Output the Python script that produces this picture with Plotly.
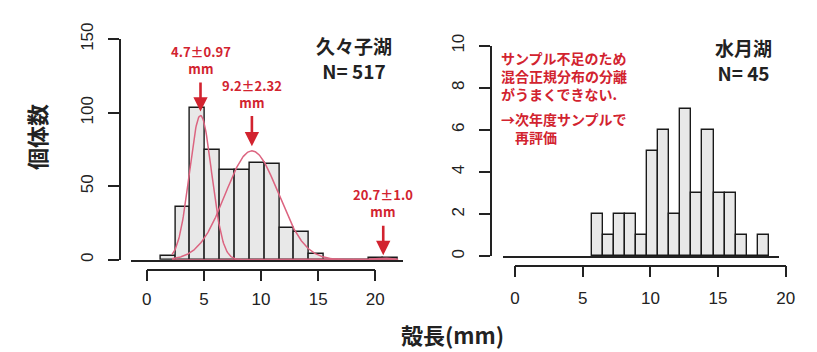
import numpy as np
import plotly.graph_objects as go

# ---------------- data ----------------
# Left panel: 久々子湖 (N=517)
left_bin_start = 1.2
left_bin_width = 1.3
left_counts = [3, 36, 103, 75, 61, 61, 66, 65, 22, 19, 4, 0, 0, 0, 1, 1]
left_total = 517
mix_means = [4.7, 9.2, 20.7]
mix_sds = [0.97, 2.32, 1.0]
mix_weights = [0.355, 0.641, 0.004]
mix_labels = ["4.7±0.97", "9.2±2.32", "20.7±1.0"]
curve_x_range = [2.2, 22.0]

# Right panel: 水月湖 (N=45)
right_bin_start = 5.65
right_bin_width = 0.82
right_counts = [2, 1, 2, 2, 1, 5, 6, 2, 7, 3, 6, 3, 3, 1, 0, 1]
right_total = 45

x_ticks = [0, 5, 10, 15, 20]
left_y_ticks = [0, 50, 100, 150]
right_y_ticks = [0, 2, 4, 6, 8, 10]

# ---------------- layout helpers (pixel geometry) ----------------
W, H = 817, 352
def X(px):
    return px / W
def Y(py):
    return 1 - py / H

RED = "#d2232f"
PINK = "#dc6480"
DARK = "#222222"
JP = "Noto Sans CJK JP"

L_x0, L_sx = 144.3, 11.62       # px of x=0, px per unit
L_y0, L_sy = 256.7, 1.555       # px of y=0, px per unit
L_left, L_right, L_top = 128, 405, 20
R_x0, R_sx = 519.0, 13.766
R_y0, R_sy = 253.0, 22.27
R_left, R_right, R_top = 506.7, 787.7, 20

fig = go.Figure()

def bars(start, width, counts, xa, ya):
    n = len(counts)
    centers = [start + width * (i + 0.5) for i in range(n)]
    return go.Bar(x=centers, y=counts, width=[width] * n, xaxis=xa, yaxis=ya,
                  marker=dict(color="#e8e8e8", line=dict(color="#1a1a1a", width=1.4)),
                  showlegend=False, hoverinfo="skip")

fig.add_trace(bars(left_bin_start, left_bin_width, left_counts, "x", "y"))
fig.add_trace(bars(right_bin_start, right_bin_width, right_counts, "x2", "y2"))

# fitted normal mixture components (scaled to counts)
xs = np.linspace(curve_x_range[0], curve_x_range[1], 400)
for m, s, w in zip(mix_means, mix_sds, mix_weights):
    ys = left_total * left_bin_width * w * np.exp(-0.5 * ((xs - m) / s) ** 2) / (s * np.sqrt(2 * np.pi))
    fig.add_trace(go.Scatter(x=xs, y=ys, mode="lines", line=dict(color=PINK, width=1.5),
                             xaxis="x", yaxis="y", showlegend=False, hoverinfo="skip"))

# empty traces so the R-style display axes are drawn
for xa, ya in [("x3", "y3"), ("x4", "y4")]:
    fig.add_trace(go.Scatter(x=[None], y=[None], xaxis=xa, yaxis=ya, showlegend=False, hoverinfo="skip"))

hist_x_common = dict(showticklabels=False, ticks="", showgrid=False, zeroline=False,
                     showline=True, linecolor=DARK, linewidth=1.5, fixedrange=True)
hist_y_common = dict(visible=False, showgrid=False, zeroline=False, fixedrange=True)
disp_common = dict(showline=True, linecolor=DARK, linewidth=1.5, ticks="outside",
                   ticklen=11, tickwidth=1.5, tickcolor=DARK, showgrid=False, zeroline=False,
                   tickfont=dict(family="Liberation Sans", size=17, color=DARK), fixedrange=True)

fig.update_layout(
    width=W, height=H, margin=dict(l=0, r=0, t=0, b=0),
    paper_bgcolor="white", plot_bgcolor="rgba(0,0,0,0)", bargap=0,
    xaxis=dict(domain=[X(L_left), X(L_right)],
               range=[(L_left - L_x0) / L_sx, (L_right - L_x0) / L_sx], anchor="y", **hist_x_common),
    yaxis=dict(domain=[Y(L_y0), Y(L_top)], range=[0, (L_y0 - L_top) / L_sy], anchor="x", **hist_y_common),
    xaxis2=dict(domain=[X(R_left), X(R_right)],
                range=[(R_left - R_x0) / R_sx, (R_right - R_x0) / R_sx], anchor="y2", **hist_x_common),
    yaxis2=dict(domain=[Y(R_y0), Y(R_top)], range=[0, (R_y0 - R_top) / R_sy], anchor="x2", **hist_y_common),
    xaxis3=dict(domain=[X(L_x0), X(L_x0 + 20 * L_sx)], range=[0, 20], anchor="free", position=Y(267),
                tickvals=x_ticks, ticklabelstandoff=3, **disp_common),
    yaxis3=dict(domain=[Y(L_y0), Y(L_y0 - 150 * L_sy)], range=[0, 150], anchor="free", position=X(116.7),
                tickvals=left_y_ticks, tickangle=-90, ticklabelstandoff=8, **disp_common),
    xaxis4=dict(domain=[X(R_x0), X(R_x0 + 20 * R_sx)], range=[0, 20], anchor="free", position=Y(262.7),
                tickvals=x_ticks, ticklabelstandoff=6, **disp_common),
    yaxis4=dict(domain=[Y(R_y0), Y(R_y0 - 10 * R_sy)], range=[0, 10], anchor="free", position=X(494),
                tickvals=right_y_ticks, tickangle=-90, ticklabelstandoff=8, **disp_common),
)

ann = []
def txt(text, px, py, size, color=DARK, family=JP, xanchor="center", angle=0, bold=True):
    t = f"<b>{text}</b>" if bold else text
    ann.append(dict(text=t, x=X(px), y=Y(py), xref="paper", yref="paper", showarrow=False,
                    xanchor=xanchor, yanchor="middle", textangle=angle,
                    align=xanchor if xanchor != "center" else "center",
                    font=dict(family=family, size=size, color=color)))

# component labels with arrows pointing down to each component (label centre -> tip, count units)
label_y = [135.8, 113.0, 38.4]
arrow_tips = [100.8, 77.2, 3.2]
for m, lab, ly, tp in zip(mix_means, mix_labels, label_y, arrow_tips):
    ann.append(dict(x=m, y=tp, ax=m, ay=ly, xref="x", yref="y", axref="x", ayref="y",
                    text=f"<b>{lab}<br>mm</b>", font=dict(family=JP, size=13, color=RED),
                    showarrow=True, arrowhead=2, arrowsize=1.1, arrowwidth=2.6,
                    arrowcolor=RED, standoff=0, startstandoff=3))

# panel titles
txt(f"久々子湖<br>N= {left_total}", 355, 43.3, 19)
txt(f"水月湖<br>N= {right_total}", 751.7, 45, 19)

# right panel note
txt("サンプル不足のため<br>混合正規分布の分離<br>がうまくできない.", 503, 62.3, 14, RED, xanchor="left")
txt("→次年度サンプルで<br>　再評価", 503, 117, 14, RED, xanchor="left")

# axis titles
txt("殻長(mm)", 455, 335, 22)
txt("個体数", 31.7, 126.7, 22, angle=-90)

fig.update_layout(annotations=ann)
fig.write_html("out.html", config={"displayModeBar": False},
               post_script="document.body.style.margin='0';document.body.style.padding='0';")
